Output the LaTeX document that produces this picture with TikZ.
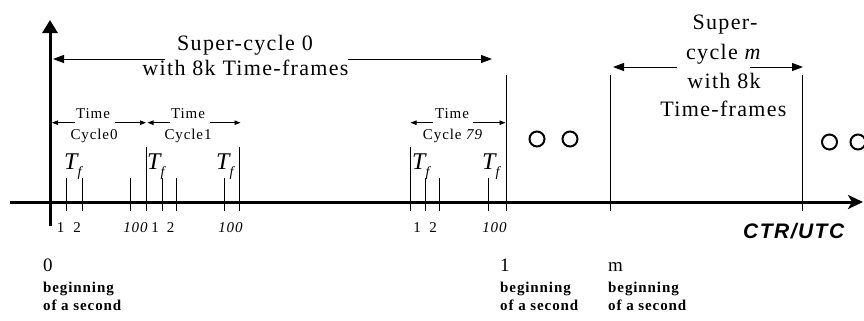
\documentclass[tikz,border=0pt]{standalone}
\usepackage{fontspec}
\setmainfont{Liberation Serif}[LetterSpace=6]
\newfontfamily\axisfont{Liberation Sans}[LetterSpace=7]
\usetikzlibrary{arrows.meta}
\begin{document}
\begin{tikzpicture}[x=1bp,y=-1bp,
  axisline/.style={line width=3bp},
  tickline/.style={line width=0.9bp},
  dimarrow/.style={line width=0.8bp,-{Triangle[length=6bp,width=4.5bp]}},
  bigarrow/.style={line width=1bp,-{Triangle[length=11bp,width=8bp]}},
  bigtxt/.style={font=\fontsize{22bp}{28bp}\selectfont, inner sep=0pt, anchor=base},
  smalltxt/.style={font=\fontsize{15bp}{18bp}\selectfont, inner sep=0pt, anchor=base},
  numtxt/.style={font=\fontsize{15bp}{16bp}\selectfont, inner sep=0pt, anchor=base},
  sectxt/.style={font=\fontsize{19bp}{20bp}\selectfont, inner sep=0pt, anchor=base west},
  boldtxt/.style={font=\fontsize{15bp}{18bp}\selectfont\bfseries, inner sep=0pt, anchor=base west},
  tftxt/.style={font=\fontsize{24bp}{24bp}\selectfont\itshape, inner sep=0pt, anchor=base west},
  ring/.style={circle, draw, line width=2bp, minimum size=15bp, inner sep=0pt},
]
\useasboundingbox (0,0) rectangle (864,320);

% axes
\coordinate (hstart) at (10,202);
\coordinate (hend) at (863,202);
\coordinate (vstart) at (50,226);
\coordinate (vend) at (50,20);
\draw[axisline,-{Stealth[length=15bp,width=14bp,inset=4bp]}] (hstart) -- (hend);
\draw[axisline,-{Triangle[length=13bp,width=15bp]}] (vstart) -- (vend);

% short ticks
\foreach \x in {66.7,82,130,162,176,224,425.7,439,488}
  \draw[tickline] (\x,178) -- (\x,211);
% cycle boundaries
\foreach \x in {146.7,239.3,410}
  \draw[tickline] (\x,147) -- (\x,211);
% second marks
\foreach \x in {506,610,802}
  \draw[tickline] (\x,75) -- (\x,211);

% tick labels
\node[numtxt] (l1a) at (60.5,232) {1};
\node[numtxt] (l2a) at (77,232) {2};
\node[numtxt] (l100a) at (135.5,232) {\itshape 100};
\node[numtxt] (l1b) at (155,232) {1};
\node[numtxt] (l2b) at (170.5,232) {2};
\node[numtxt] (l100b) at (230.5,232) {\itshape 100};
\node[numtxt] (l1c) at (417,232) {1};
\node[numtxt] (l2c) at (433,232) {2};
\node[numtxt] (l100c) at (494.5,232) {\itshape 100};

% T_f labels
\foreach \x/\n in {64/a,147/b,216/c,412/d,482/e}
  \node[tftxt] (tf\n) at (\x,169.5) {T\raisebox{-7bp}{\fontsize{14bp}{14bp}\selectfont f}};

% Time cycle labels
\node[smalltxt] (tc0a) at (93,118) {Time};
\node[smalltxt] (tc0b) at (94,139) {Cycle0};
\node[smalltxt] (tc1a) at (188,118) {Time};
\node[smalltxt] (tc1b) at (188,139) {Cycle1};
\node[smalltxt] (tc79a) at (452,118) {Time};
\node[smalltxt] (tc79b) at (453,139) {Cycle \textit{79}};

\coordinate (a0l) at (75,122.7);   \coordinate (a0lt) at (52,122.7);
\coordinate (a0r) at (115,122.7);  \coordinate (a0rt) at (146,122.7);
\coordinate (a1l) at (170,122.7);  \coordinate (a1lt) at (147.5,122.7);
\coordinate (a1r) at (210,122.7);  \coordinate (a1rt) at (240.5,122.7);
\coordinate (a79l) at (433,122.7); \coordinate (a79lt) at (410.5,122.7);
\coordinate (a79r) at (473,122.7); \coordinate (a79rt) at (505.5,122.7);
\draw[dimarrow] (a0l) -- (a0lt);
\draw[dimarrow] (a0r) -- (a0rt);
\draw[dimarrow] (a1l) -- (a1lt);
\draw[dimarrow] (a1r) -- (a1rt);
\draw[dimarrow] (a79l) -- (a79lt);
\draw[dimarrow] (a79r) -- (a79rt);

% Super-cycle 0
\node[bigtxt] (sc0a) at (245,50) {Super-cycle 0};
\node[bigtxt] (sc0b) at (245.5,75) {with 8k Time-frames};
\coordinate (s0l) at (165,59);  \coordinate (s0lt) at (53,59);
\coordinate (s0r) at (348,59);  \coordinate (s0rt) at (492,59);
\draw[bigarrow] (s0l) -- (s0lt);
\draw[bigarrow] (s0r) -- (s0rt);

% Super-cycle m
\node[bigtxt] (scma) at (725,29.5) {Super-};
\node[bigtxt] (scmb) at (724,59) {cycle \textit{m}};
\node[bigtxt] (scmc) at (724,88) {with 8k};
\node[bigtxt] (scmd) at (723.5,116) {Time-frames};
\coordinate (sml) at (677,67);  \coordinate (smlt) at (613,67);
\coordinate (smr) at (750,67);  \coordinate (smrt) at (803,67);
\draw[bigarrow] (sml) -- (smlt);
\draw[bigarrow] (smr) -- (smrt);

% circles
\node[ring] (c1) at (537,139) {};
\node[ring] (c2) at (570,139) {};
\node[ring] (c3) at (829.5,142) {};
\node[ring] (c4) at (858,142) {};

% axis label
\node[inner sep=0pt, anchor=base west, font=\axisfont\fontsize{21bp}{21bp}\selectfont\bfseries\itshape] (ctr) at (743,238) {CTR/UTC};

% bottom labels
\node[sectxt] (s0) at (43,271) {0};
\node[boldtxt] (b0a) at (43,292) {beginning};
\node[boldtxt] (b0b) at (43,310) {of a second};
\node[sectxt] (s1) at (500,271) {1};
\node[boldtxt] (b1a) at (500,292) {beginning};
\node[boldtxt] (b1b) at (500,310) {of a second};
\node[sectxt] (sm) at (608,271) {m};
\node[boldtxt] (bma) at (608,292) {beginning};
\node[boldtxt] (bmb) at (608,310) {of a second};
\end{tikzpicture}
\end{document}
